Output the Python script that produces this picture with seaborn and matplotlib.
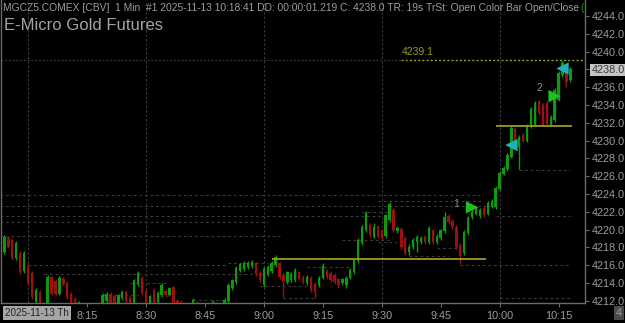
import matplotlib
matplotlib.use("Agg")
import matplotlib.pyplot as plt
import seaborn as sns
import pandas as pd
import numpy as np

# ---------------- data (1-minute bars, MGCZ5, 2025-11-13) ----------------
first_bar = "07:54"
opens = [4217.5, 4219.0, 4218.8, 4216.8, 4217.4, 4215.3, 4215.9, 4215.1, 4211.9, 4213.0,
         4211.6, 4211.5, 4214.7, 4214.2, 4212.8, 4214.5, 4214.0, 4212.8, 4212.2, 4211.2,
         4211.4, 4210.8, 4211.0, 4210.7, 4211.2, 4211.6, 4212.0, 4212.8, 4212.5, 4211.7,
         4212.3, 4213.0, 4212.3, 4211.6, 4213.9, 4214.6, 4213.1, 4211.6, 4213.2, 4211.9,
         4212.6, 4213.1, 4212.7, 4213.5, 4212.0, 4211.9, 4210.8, 4211.2, 4211.3, 4211.8,
         4211.0, 4210.4, 4210.8, 4211.0, 4211.7, 4211.1, 4211.3, 4212.0, 4213.4, 4214.1,
         4215.4, 4215.6, 4215.8, 4215.9, 4216.2, 4215.1, 4213.8, 4215.0, 4215.3, 4216.0,
         4216.2, 4214.9, 4214.1, 4214.3, 4214.3, 4215.2, 4214.7, 4214.0, 4214.6, 4213.9,
         4213.8, 4214.6, 4215.4, 4215.1, 4214.9, 4214.4, 4214.0, 4213.8, 4214.6, 4215.2,
         4216.5, 4218.5, 4219.9, 4220.5, 4219.2, 4220.3, 4219.9, 4219.3, 4221.1, 4222.2,
         4219.8, 4220.1, 4219.1, 4217.5, 4218.0, 4218.6, 4218.6, 4219.2, 4218.6, 4219.9,
         4218.6, 4219.0, 4219.8, 4221.5, 4221.0, 4220.3, 4218.3, 4217.4, 4219.6, 4221.4,
         4221.8, 4221.5, 4222.4, 4221.8, 4222.6, 4222.5, 4224.6, 4226.3, 4226.8, 4228.2,
         4231.3, 4229.3, 4230.6, 4230.0, 4231.6, 4231.8, 4234.4, 4234.0, 4234.2, 4231.8,
         4232.3, 4234.6, 4237.4, 4237.7, 4236.8]
highs = [4219.4, 4219.3, 4219.0, 4218.7, 4217.6, 4217.6, 4216.2, 4215.3, 4213.4, 4213.2,
         4211.8, 4214.9, 4214.8, 4214.4, 4214.8, 4214.7, 4214.2, 4213.0, 4212.4, 4212.0,
         4211.6, 4211.3, 4211.5, 4211.4, 4211.6, 4212.9, 4213.0, 4213.0, 4212.7, 4212.8,
         4213.2, 4213.2, 4212.5, 4214.5, 4215.3, 4214.8, 4213.3, 4212.7, 4213.4, 4213.1,
         4214.0, 4213.3, 4213.6, 4213.7, 4212.2, 4212.1, 4211.6, 4211.8, 4212.3, 4212.0,
         4211.2, 4211.0, 4211.3, 4212.1, 4211.9, 4211.6, 4212.3, 4214.0, 4214.5, 4215.9,
         4216.3, 4216.5, 4216.5, 4216.6, 4216.4, 4215.3, 4215.8, 4216.0, 4216.5, 4217.1,
         4216.4, 4215.1, 4215.4, 4215.2, 4215.7, 4215.4, 4214.9, 4214.9, 4214.8, 4214.1,
         4214.8, 4216.2, 4215.6, 4215.3, 4215.1, 4214.6, 4214.6, 4214.8, 4215.7, 4216.8,
         4219.0, 4220.5, 4222.1, 4220.7, 4220.7, 4220.5, 4220.1, 4221.8, 4223.1, 4222.4,
         4220.4, 4220.3, 4219.3, 4218.4, 4219.0, 4219.4, 4219.3, 4219.4, 4220.4, 4220.1,
         4219.5, 4220.1, 4222.0, 4221.7, 4221.2, 4220.5, 4218.5, 4219.9, 4221.5, 4222.5,
         4222.6, 4222.4, 4222.6, 4223.2, 4223.4, 4224.9, 4226.6, 4227.1, 4228.6, 4231.6,
         4231.5, 4230.6, 4230.8, 4231.9, 4233.8, 4234.4, 4234.6, 4234.2, 4234.4, 4232.9,
         4235.9, 4237.8, 4239.1, 4237.9, 4238.3]
lows = [4217.3, 4217.9, 4216.6, 4216.6, 4215.0, 4215.1, 4213.9, 4212.2, 4211.7, 4211.2,
        4210.8, 4211.3, 4212.6, 4212.6, 4212.6, 4213.7, 4212.2, 4211.0, 4210.8, 4211.0,
        4210.5, 4210.2, 4210.4, 4210.5, 4210.9, 4211.4, 4211.8, 4211.6, 4211.3, 4211.5,
        4212.1, 4211.8, 4211.4, 4211.4, 4213.7, 4212.7, 4211.4, 4211.4, 4211.4, 4211.7,
        4212.4, 4212.4, 4212.5, 4211.6, 4211.0, 4210.8, 4210.6, 4210.9, 4211.1, 4210.8,
        4210.2, 4210.1, 4210.5, 4210.8, 4210.9, 4210.8, 4211.1, 4211.8, 4213.2, 4213.9,
        4215.2, 4215.4, 4215.6, 4215.7, 4214.8, 4214.1, 4213.6, 4214.8, 4215.1, 4215.8,
        4214.5, 4212.4, 4213.9, 4214.1, 4214.1, 4214.3, 4213.9, 4213.8, 4213.0, 4212.3,
        4213.6, 4214.4, 4214.5, 4214.1, 4213.9, 4213.4, 4213.8, 4213.4, 4214.4, 4215.0,
        4216.3, 4218.3, 4219.7, 4219.2, 4219.0, 4219.1, 4218.8, 4219.1, 4220.9, 4219.7,
        4219.6, 4217.8, 4217.2, 4217.1, 4217.8, 4217.5, 4218.4, 4218.4, 4218.4, 4218.4,
        4218.4, 4218.8, 4219.6, 4220.6, 4220.1, 4217.8, 4216.1, 4217.2, 4219.4, 4221.2,
        4221.6, 4221.3, 4221.4, 4221.6, 4222.4, 4222.3, 4224.4, 4226.1, 4226.6, 4228.0,
        4229.6, 4226.8, 4229.8, 4229.8, 4231.4, 4231.6, 4232.9, 4231.6, 4231.7, 4231.6,
        4232.1, 4234.4, 4237.2, 4236.0, 4236.6]
closes = [4219.2, 4218.0, 4216.8, 4218.5, 4215.2, 4217.4, 4214.0, 4212.4, 4213.2, 4211.5,
          4211.0, 4214.7, 4212.8, 4212.8, 4214.6, 4213.9, 4212.4, 4211.2, 4211.0, 4211.9,
          4210.7, 4211.1, 4210.6, 4211.2, 4211.4, 4212.7, 4212.8, 4211.8, 4211.5, 4212.6,
          4213.0, 4212.0, 4211.6, 4214.3, 4215.1, 4212.9, 4211.6, 4212.5, 4211.6, 4212.9,
          4213.8, 4212.6, 4213.4, 4211.8, 4211.2, 4211.0, 4211.4, 4211.6, 4212.1, 4211.0,
          4210.4, 4210.8, 4211.1, 4211.9, 4211.1, 4211.4, 4212.1, 4213.8, 4214.3, 4215.7,
          4216.1, 4216.3, 4216.3, 4216.4, 4215.0, 4214.3, 4215.6, 4215.8, 4216.3, 4216.9,
          4214.7, 4214.2, 4215.2, 4215.0, 4215.5, 4214.5, 4214.1, 4214.7, 4213.2, 4213.0,
          4214.6, 4215.9, 4214.7, 4214.3, 4214.1, 4213.8, 4214.4, 4214.6, 4215.5, 4216.6,
          4218.8, 4220.3, 4221.9, 4219.4, 4220.3, 4219.3, 4219.0, 4221.6, 4222.9, 4219.9,
          4220.2, 4218.0, 4217.4, 4218.0, 4218.8, 4219.2, 4219.1, 4218.6, 4220.2, 4218.6,
          4219.3, 4219.9, 4221.4, 4220.8, 4220.3, 4218.0, 4217.0, 4219.7, 4221.3, 4222.0,
          4222.4, 4222.2, 4221.6, 4223.0, 4223.2, 4224.7, 4226.4, 4226.9, 4228.4, 4231.4,
          4229.8, 4230.4, 4230.0, 4231.7, 4233.6, 4234.2, 4233.1, 4231.8, 4231.9, 4232.7,
          4235.7, 4237.6, 4238.7, 4236.6, 4238.0]

# signal markers: (time, price, kind)
signal_times = ["09:53", "10:03", "10:14", "10:16"]
signal_prices = [4222.5, 4229.5, 4235.0, 4238.1]
signal_kinds = ["long", "exit", "long", "exit"]
signal_labels = [("1", "09:49", 4222.9), ("2", "10:10", 4235.9)]

# support/resistance lines (yellow)
yellow_levels = [4216.65, 4231.65]
yellow_from = ["09:02", "09:59"]
yellow_to = ["09:56", "10:18"]
target_price = 4239.1
target_from = "09:35"

# faint dashed reference levels: (price, from, to)
dash_prices = [4223.9, 4223.2, 4222.65, 4222.0, 4221.5, 4221.5, 4220.85, 4219.3, 4218.8,
               4218.6, 4217.9, 4217.0, 4216.0, 4216.3, 4216.0, 4215.8, 4215.0, 4214.0,
               4213.7, 4212.65, 4212.3, 4212.3, 4212.1, 4226.7]
dash_from = ["07:53", "09:29", "07:53", "09:25", "07:53", "09:59", "07:53", "07:53", "09:20",
             "09:29", "09:44", "09:37", "08:00", "08:51", "09:50", "09:11", "08:04", "08:26",
             "08:59", "08:19", "09:05", "10:00", "08:42", "10:05"]
dash_to = ["09:55", "09:56", "09:58", "09:32", "09:30", "10:18", "09:01", "09:04", "09:32",
           "09:34", "09:49", "09:47", "08:51", "09:01", "10:18", "09:22", "09:01", "08:35",
           "09:11", "08:28", "09:13", "10:18", "08:51", "10:18"]

time_ticks = ["08:15", "08:30", "08:45", "09:00", "09:15", "09:30", "09:45", "10:00", "10:15"]
grid_times = ["08:00", "08:30", "09:00", "09:30", "10:00"]
price_ticks = list(range(4212, 4245, 2))


def tmin(s):
    h, m = s.split(":")
    return int(h) * 60 + int(m)


start = tmin(first_bar)
df = pd.DataFrame({"open": opens, "high": highs, "low": lows, "close": closes})
df["t"] = start + np.arange(len(df))
df["dir"] = np.where(df["close"] >= df["open"], "up", "down")

GREEN = "#0e9a0e"
RED = "#a00f0f"
GRAY = "#9c9c9c"
YEL = "#9a9a22"

sns.set_theme(style="dark", rc={"axes.facecolor": "black", "figure.facecolor": "black"})
plt.rcParams["font.family"] = ["Liberation Sans", "DejaVu Sans"]

fig = plt.figure(figsize=(6.25, 3.23), dpi=100, facecolor="black")
ax = fig.add_axes([1 / 625, 20 / 323, 584 / 625, 303 / 323])
ax.set_facecolor("black")

x0 = 480 + (1 - 28) / 3.93
x1 = 480 + (585 - 28) / 3.93
ax.set_xlim(x0, x1)
ax.set_ylim(4211.75, 4245.8)

# grid
for g in grid_times:
    ax.axvline(tmin(g), color="#3c3c3c", lw=0.8, ls=(0, (2, 2)), zorder=0)
ax.hlines(dash_prices, [tmin(s) for s in dash_from], [tmin(s) for s in dash_to],
          colors="#3a3a3a", lw=0.8, linestyles=(0, (2.5, 2.5)), zorder=0)
ax.hlines(target_price, x0, tmin(target_from), colors="#3a3a3a", lw=0.9,
          linestyles=(0, (1.5, 1.5)), zorder=0)

# candles
colors = df["dir"].map({"up": GREEN, "down": RED})
ax.vlines(df["t"], df["low"], df["high"], colors=colors, lw=1.0, zorder=2)
body = (df["close"] - df["open"]).abs().clip(lower=0.12)
ax.bar(df["t"], body, bottom=df[["open", "close"]].min(axis=1), width=0.6,
       color=colors, linewidth=0, zorder=3)

# yellow levels
for lv, a, b in zip(yellow_levels, yellow_from, yellow_to):
    ax.hlines(lv, tmin(a), tmin(b) + 0.5, colors=YEL, lw=1.3, zorder=4)
ax.hlines(target_price, tmin(target_from), x1, colors=YEL, lw=1.0,
          linestyles=(0, (1.5, 1.5)), zorder=4)
ax.text(tmin(target_from) + 0.2, target_price + 0.25, f"{target_price:.1f}", color=YEL,
        fontsize=7.5, va="bottom", ha="left")

# signals
sig = pd.DataFrame({"t": [tmin(s) for s in signal_times], "p": signal_prices, "k": signal_kinds})
sns.scatterplot(data=sig[sig.k == "long"], x="t", y="p", marker=">", s=80, color="#1fbf1f",
                edgecolor="none", ax=ax, zorder=5, legend=False)
sns.scatterplot(data=sig[sig.k == "exit"], x="t", y="p", marker="<", s=80, color="#1fb0b8",
                edgecolor="none", ax=ax, zorder=5, legend=False)
for lab, tt, pp in signal_labels:
    ax.text(tmin(tt), pp, lab, color="#8c8c8c", fontsize=7.5, ha="center", va="center")

# axes styling
ax.spines["top"].set_visible(False)
for side in ["left", "right", "bottom"]:
    ax.spines[side].set_visible(True)
    ax.spines[side].set_color("#6a6a6a")
    ax.spines[side].set_linewidth(1.0)
ax.set_xlabel("")
ax.set_ylabel("")
ax.yaxis.tick_right()
ax.set_yticks(price_ticks)
ax.set_yticklabels([f"{v:.1f}" for v in price_ticks])
ax.set_xticks([tmin(s) for s in time_ticks])
ax.set_xticklabels([s.lstrip("0") for s in time_ticks])
ax.tick_params(axis="y", right=True, left=False, length=3, width=0.8, color="#6a6a6a",
               labelsize=7.8, labelcolor=GRAY, pad=1.5)
ax.tick_params(axis="x", bottom=True, length=3, width=0.8, color="#6a6a6a",
               labelsize=7.8, labelcolor=GRAY, pad=2.5)
ax.grid(False)

# current price highlight
for lbl in ax.get_yticklabels():
    if lbl.get_text() == "4238.0":
        lbl.set_bbox(dict(facecolor="#c4c4c4", edgecolor="none", pad=0.8))
        lbl.set_color("#3a3a3a")

# header texts
fig.text(3 / 625, 1 - 8 / 323,
         "MGCZ5.COMEX [CBV]  1 Min  #1 2025-11-13 10:18:41 DD: 00:00:01.219 C: 4238.0 "
         "TR: 19s TrSt: Open Color Bar Open/Close",
         color=GRAY, fontsize=7.35, va="center", ha="left")
fig.text(580 / 625, 1 - 8 / 323, "(", color="#1c9a1c", fontsize=7.5, va="center", ha="left")
fig.text(4 / 625, 1 - 25 / 323, "E-Micro Gold Futures", color="#a4a4a4", fontsize=12,
         va="center", ha="left")
fig.text(5 / 625, 1 - 313 / 323, "2025-11-13 Th", color="#222222", fontsize=7.1,
         va="center", ha="left",
         bbox=dict(facecolor="#a6a6a6", edgecolor="none", pad=1.8))
fig.text(619 / 625, 1 - 313 / 323, "4", color="#a0a0a0", fontsize=7.8, va="center",
         ha="center", bbox=dict(facecolor="#4a4a4a", edgecolor="none", pad=1.5))

fig.savefig("out.png", dpi=100, facecolor="black")
